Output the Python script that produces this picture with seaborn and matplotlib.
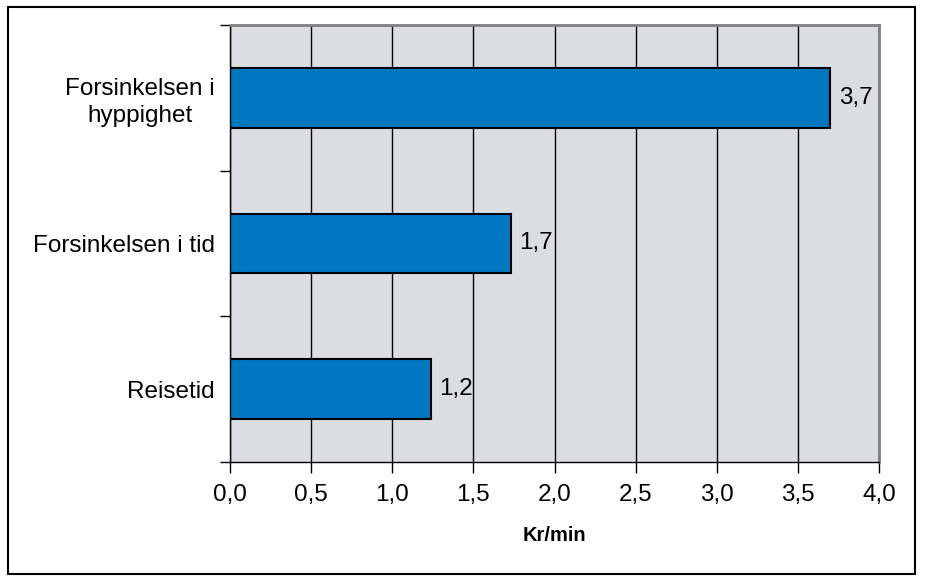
import matplotlib
matplotlib.use("Agg")
import matplotlib.pyplot as plt
import seaborn as sns
import pandas as pd
from matplotlib.patches import Rectangle
from matplotlib.ticker import FuncFormatter, FixedLocator

categories = ["Forsinkelsen i\nhyppighet", "Forsinkelsen i tid", "Reisetid"]
values = [3.70, 1.73, 1.24]
xticks = [0.0, 0.5, 1.0, 1.5, 2.0, 2.5, 3.0, 3.5, 4.0]
xlabel = "Kr/min"

sns.set_theme(style="white")
plt.rcParams['font.family'] = ['Liberation Sans', 'DejaVu Sans']

df = pd.DataFrame({"cat": categories, "val": values})

fig = plt.figure(figsize=(9.25, 5.82), dpi=100)
ax = fig.add_axes([230/925, 1-462/582, (879-230)/925, (462-25)/582])

sns.barplot(data=df, x="val", y="cat", orient="h", color="#0077C0",
            saturation=1, width=0.41, edgecolor="black", linewidth=1.5, ax=ax)

ax.set_facecolor("#DCDDE0")
ax.set_xlim(0, 4.0)
ax.set_ylim(2.5, -0.5)
ax.set_xticks(xticks)
ax.xaxis.set_major_formatter(FuncFormatter(lambda v, p: f"{v:.1f}".replace(".", ",")))
ax.grid(axis="x", color="black", linewidth=1)
ax.grid(axis="y", visible=False)
ax.set_axisbelow(True)

# y ticks: labels at category centers, tick marks at boundaries
ax.tick_params(axis="y", which="major", length=0, pad=11, labelsize=17.5, colors="black")
ax.yaxis.set_minor_locator(FixedLocator([-0.5, 0.5, 1.5, 2.5]))
ax.tick_params(axis="y", which="minor", length=7, width=1, color="black", left=True)
for t in ax.get_yticklabels():
    t.set_multialignment("center")
    t.set_linespacing(1.3)
ax.tick_params(axis="x", which="major", length=8, width=1, color="black", bottom=True,
               labelsize=17.5, pad=8, colors="black")

ax.set_ylabel("")
ax.set_xlabel(xlabel, fontsize=14.5, fontweight="bold", labelpad=14, color="black")

for s in ["left", "bottom"]:
    ax.spines[s].set_color("black")
    ax.spines[s].set_linewidth(1)
for s in ["top", "right"]:
    ax.spines[s].set_color("#808080")
    ax.spines[s].set_linewidth(2)

labels = [f"{v:.1f}".replace(".", ",") for v in values]
ax.bar_label(ax.containers[0], labels=labels, padding=6, fontsize=17.5, color="black")

fig.patches.append(Rectangle((8/925, 1-574/582), (915-8)/925, (574-7)/582,
                             transform=fig.transFigure, fill=False,
                             edgecolor="black", linewidth=1.5))

fig.savefig("out.png", dpi=100, facecolor="white")
